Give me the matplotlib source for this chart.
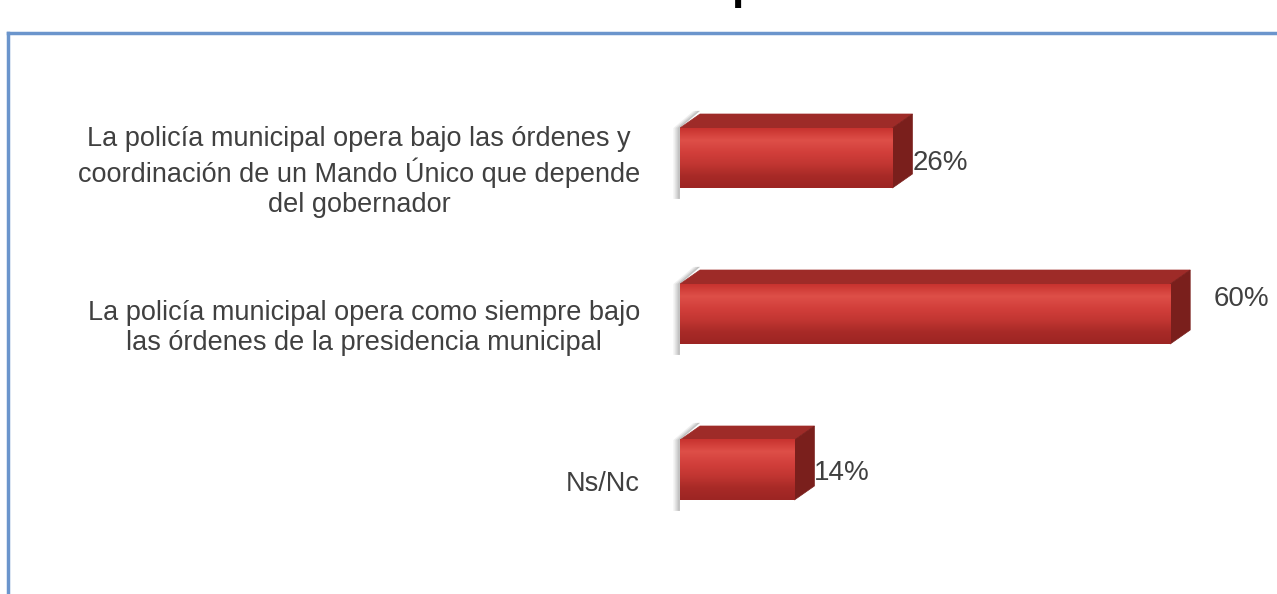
import matplotlib.pyplot as plt
import numpy as np
from matplotlib.patches import Polygon
from matplotlib.colors import LinearSegmentedColormap

plt.rcParams['font.family'] = ['Liberation Sans', 'DejaVu Sans']

categories = [
    "La policía municipal opera bajo las órdenes y\ncoordinación de un Mando Único que depende\ndel gobernador",
    "La policía municipal opera como siempre bajo\nlas órdenes de la presidencia municipal",
    "Ns/Nc",
]
values = [26, 60, 14]
value_labels = ["26%", "60%", "14%"]

# label offsets in pixels (x right, y up)
label_shift = [(20, -5), (43, 15), (19, -3)]

W, H = 1277, 594
fig = plt.figure(figsize=(W / 100, H / 100), dpi=100)
fig.patch.set_facecolor('white')

px_per_unit = 8.17
ax = fig.add_axes([680 / W, 46 / H, 70 * px_per_unit / W, 468 / H])
ax.set_xlim(0, 70)
ax.set_ylim(2.5, -0.5)
ax.axis('off')

bar_h = 60 / 156.0
dx = 20 / px_per_unit        # depth in x units
dy = 14 / 156.0              # depth in y units

front_cmap = LinearSegmentedColormap.from_list(
    'front', ['#c8332f', '#de4f48', '#d23f3b', '#c23632', '#a82a27', '#9c2523'])
grad = np.linspace(0, 1, 100).reshape(-1, 1)

for i, v in enumerate(values):
    top = i - bar_h / 2
    bot = i + bar_h / 2
    # soft shadow behind left edge
    for w, a in [(0.8, 0.12), (0.55, 0.18), (0.3, 0.25)]:
        ax.add_patch(Polygon([(-w, bot + 0.07), (-w, top), (dx - w, top - dy - 0.02),
                              (dx, top - dy - 0.02), (0, top), (0, bot + 0.07)],
                             closed=True, facecolor='#808080', alpha=a,
                             edgecolor='none', zorder=1, clip_on=False))
    # top face
    ax.add_patch(Polygon([(0, top), (dx, top - dy), (v + dx, top - dy), (v, top)],
                         closed=True, facecolor='#9e2b28', edgecolor='#9e2b28',
                         lw=0.5, zorder=2))
    # side face
    ax.add_patch(Polygon([(v, top), (v + dx, top - dy), (v + dx, bot - dy), (v, bot)],
                         closed=True, facecolor='#7a1f1c', edgecolor='#7a1f1c',
                         lw=0.5, zorder=2))
    # front face with vertical gradient
    ax.imshow(grad, cmap=front_cmap, aspect='auto', extent=[0, v, bot, top],
              zorder=3, interpolation='bicubic')
    ax.annotate(value_labels[i], xy=(v, i), xytext=label_shift[i],
                textcoords='offset pixels', ha='left', va='center',
                fontsize=20, color='#404040', annotation_clip=False)
    ax.annotate(categories[i], xy=(0, i), xytext=(-40, -14),
                textcoords='offset pixels', ha='right', va='center',
                multialignment='center', fontsize=19.5, color='#404040',
                linespacing=1.22, annotation_clip=False)

ax.set_xlim(0, 70)
ax.set_ylim(2.5, -0.5)

# chart frame (top and left edges visible)
frame_col = '#6b95cc'
fig.add_artist(plt.Line2D([8 / W, 1], [1 - 33 / H, 1 - 33 / H], color=frame_col,
                          lw=2.5, transform=fig.transFigure))
fig.add_artist(plt.Line2D([8 / W, 8 / W], [0, 1 - 33 / H], color=frame_col,
                          lw=2.5, transform=fig.transFigure))

# title cut off above the image, only a descender shows
fig.text(745 / W, 1 + 1 / H, "p", fontsize=32, fontweight='bold', color='black',
         ha='center', va='baseline')

fig.savefig('out.png', dpi=100, facecolor='white')
